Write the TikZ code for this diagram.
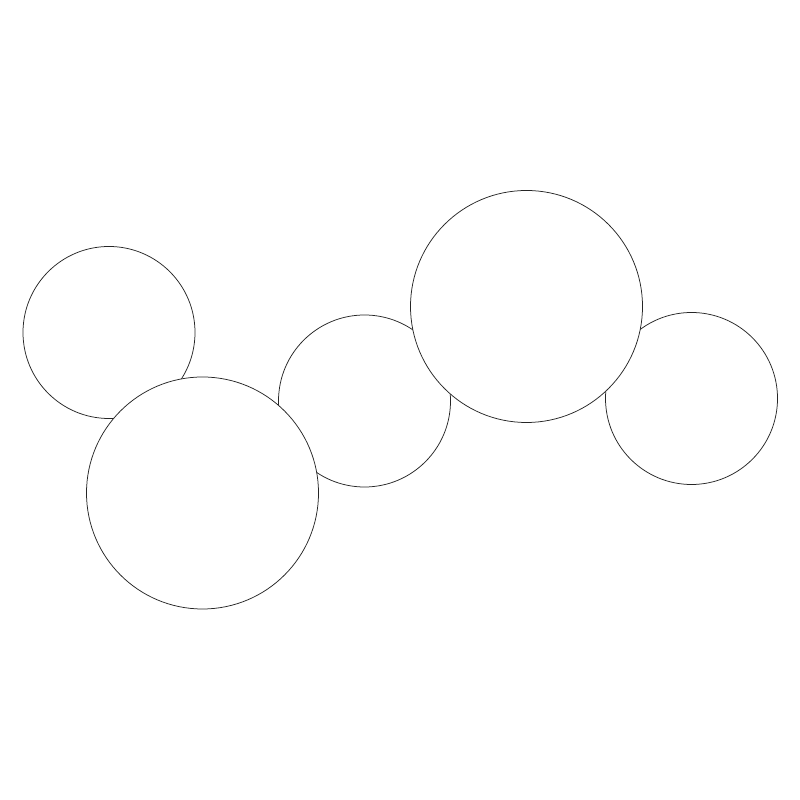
\documentclass[tikz,border=0pt]{standalone}
\usepackage{tikz}
\tikzset{bubble/.style={line width=0.15mm, color=black!85, fill=white}}

\begin{document}
\begin{tikzpicture}
			%%%%% START %%%%%
			
			\useasboundingbox (0, 0) rectangle (16, 16);
			
			\draw[bubble] (2.18, 9.35) circle (1.72);
			\draw[bubble] (7.29, 7.98) circle (1.72);
			\draw[bubble] (13.83, 8.03) circle (1.72);
			
			\draw[bubble] (4.05, 6.14) circle (2.32);
			\draw[bubble] (10.53, 9.87) circle (2.32);
			
			%%%%% END %%%%%
		\end{tikzpicture}
\end{document}
